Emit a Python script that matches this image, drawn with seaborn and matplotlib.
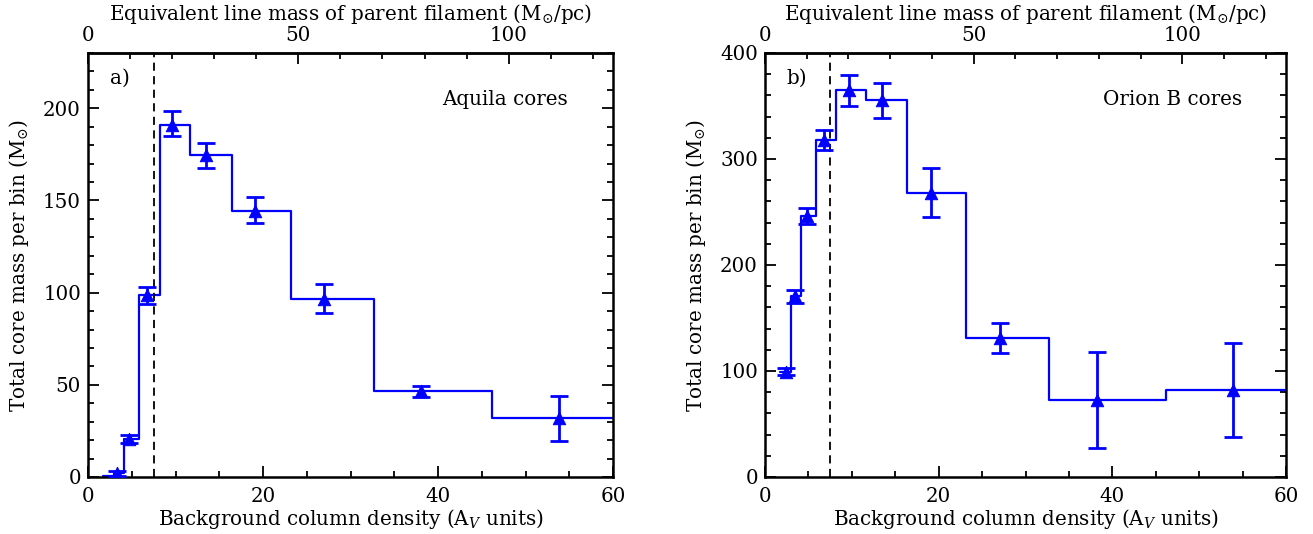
import numpy as np
import pandas as pd
import matplotlib
matplotlib.use("Agg")
import matplotlib.pyplot as plt
import seaborn as sns
from matplotlib.ticker import MultipleLocator, FixedLocator

# ---------------- data ----------------
# bin edges in background column density (A_V)
edges_a = [1.7, 2.95, 4.15, 5.85, 8.2, 11.6, 16.4, 23.2, 32.7, 46.2, 65.0]
mass_a = [0.5, 2.0, 20.5, 98.5, 191.0, 174.5, 144.5, 96.5, 46.5, 32.0]
pts_x_a = [3.35, 4.72, 6.7, 9.56, 13.5, 19.1, 27.0, 38.0, 53.8]
pts_y_a = [2.0, 20.5, 98.5, 191.0, 174.5, 144.5, 96.5, 46.5, 32.0]
err_hi_a = [3.5, 23.0, 103.0, 198.4, 181.0, 151.8, 104.7, 49.6, 44.0]
err_lo_a = [0.5, 18.3, 94.0, 185.0, 167.6, 137.9, 88.8, 43.5, 19.7]

edges_b = [1.7, 2.95, 4.15, 5.85, 8.2, 11.6, 16.4, 23.2, 32.7, 46.2, 65.0]
mass_b = [99.5, 170.5, 246.0, 318.0, 365.5, 355.5, 268.0, 131.0, 73.0, 82.5]
pts_x_b = [2.42, 3.46, 4.88, 6.83, 9.68, 13.5, 19.1, 27.1, 38.2, 53.9]
pts_y_b = [99.5, 170.5, 246.0, 318.0, 365.5, 355.5, 268.0, 131.0, 73.0, 82.5]
err_hi_b = [102.8, 176.0, 253.4, 327.5, 379.6, 371.5, 291.5, 145.2, 118.0, 126.5]
err_lo_b = [95.8, 164.0, 238.6, 308.6, 350.0, 339.0, 245.0, 116.8, 27.0, 37.8]

av_threshold = 7.5
line_mass_per_av = 2.08   # M_sun/pc per A_V unit (top axis)
top_ticks = [0, 50, 100]

xlabel = "Background column density (A$_V$ units)"
ylabel = "Total core mass per bin (M$_{\\odot}$)"
toplabel = "Equivalent line mass of parent filament (M$_{\\odot}$/pc)"

# ---------------- style ----------------
sns.set_theme(style="ticks")
plt.rcParams['font.family'] = ['DejaVu Serif', 'DejaVu Sans']
plt.rcParams['mathtext.fontset'] = 'dejavuserif'
plt.rcParams['text.color'] = 'black'
plt.rcParams['axes.labelcolor'] = 'black'
plt.rcParams['xtick.color'] = 'black'
plt.rcParams['ytick.color'] = 'black'
FS = 14.3

fig = plt.figure(figsize=(13.13, 5.34), dpi=100)
W, H = 1313, 534
ax1 = fig.add_axes([88 / W, 57 / H, 525 / W, 424 / H])
ax2 = fig.add_axes([765 / W, 57 / H, 521 / W, 424 / H])


def panel(ax, edges, mass, px, py, lo, hi, ymax, ymaj, ymin, tag, name):
    step = pd.DataFrame({"av": edges, "mass": list(mass) + [mass[-1]]})
    sns.lineplot(data=step, x="av", y="mass", drawstyle="steps-post",
                 color="blue", lw=1.6, ax=ax, estimator=None, sort=False)
    py = np.asarray(py)
    yerr = [py - np.asarray(lo), np.asarray(hi) - py]
    ax.errorbar(px, py, yerr=yerr, fmt='none', ecolor='blue',
                elinewidth=2.0, capsize=6.5, capthick=2.0, zorder=4)
    pts = pd.DataFrame({"av": px, "mass": py})
    sns.scatterplot(data=pts, x="av", y="mass", marker="^", color="blue",
                    edgecolor="blue", s=80, ax=ax, zorder=5, legend=False)
    ax.axvline(av_threshold, color="black", ls=(0, (4.5, 3)), lw=1.3)

    ax.set_xlim(0, 60)
    ax.set_ylim(0, ymax)
    ax.xaxis.set_major_locator(MultipleLocator(20))
    ax.xaxis.set_minor_locator(MultipleLocator(5))
    ax.yaxis.set_major_locator(MultipleLocator(ymaj))
    ax.yaxis.set_minor_locator(MultipleLocator(ymin))
    ax.tick_params(which="both", direction="in", top=False, right=True,
                   colors="black", labelsize=FS, width=1.3)
    ax.tick_params(which="major", length=8, pad=5)
    ax.tick_params(axis="x", which="major", pad=7)
    ax.tick_params(which="minor", length=4)
    for s in ax.spines.values():
        s.set_linewidth(1.8)
        s.set_color("black")
    ax.set_xlabel(xlabel, fontsize=FS, labelpad=1)
    ax.set_ylabel(ylabel, fontsize=FS, labelpad=9)

    sec = ax.secondary_xaxis('top', functions=(lambda x: x * line_mass_per_av,
                                                lambda m: m / line_mass_per_av))
    sec.xaxis.set_major_locator(FixedLocator(top_ticks))
    sec.xaxis.set_minor_locator(MultipleLocator(10))
    sec.tick_params(which="both", direction="in", labelsize=FS, width=1.3,
                    colors="black")
    sec.tick_params(which="major", length=8, pad=6)
    sec.tick_params(which="minor", length=4)
    sec.spines['top'].set_linewidth(1.8)
    # top-axis title placed just above its tick labels
    ax.text(0.5, 1.091, toplabel, transform=ax.transAxes, fontsize=FS,
            ha="center", va="center")

    ax.text(0.042, 0.94, tag, transform=ax.transAxes, fontsize=FS,
            ha="left", va="center")
    ax.text(0.915, 0.891, name, transform=ax.transAxes, fontsize=FS,
            ha="right", va="center")


panel(ax1, edges_a, mass_a, pts_x_a, pts_y_a, err_lo_a, err_hi_a,
      230, 50, 10, "a)", "Aquila cores")
panel(ax2, edges_b, mass_b, pts_x_b, pts_y_b, err_lo_b, err_hi_b,
      400, 100, 20, "b)", "Orion B cores")

fig.savefig("out.png", dpi=100)
